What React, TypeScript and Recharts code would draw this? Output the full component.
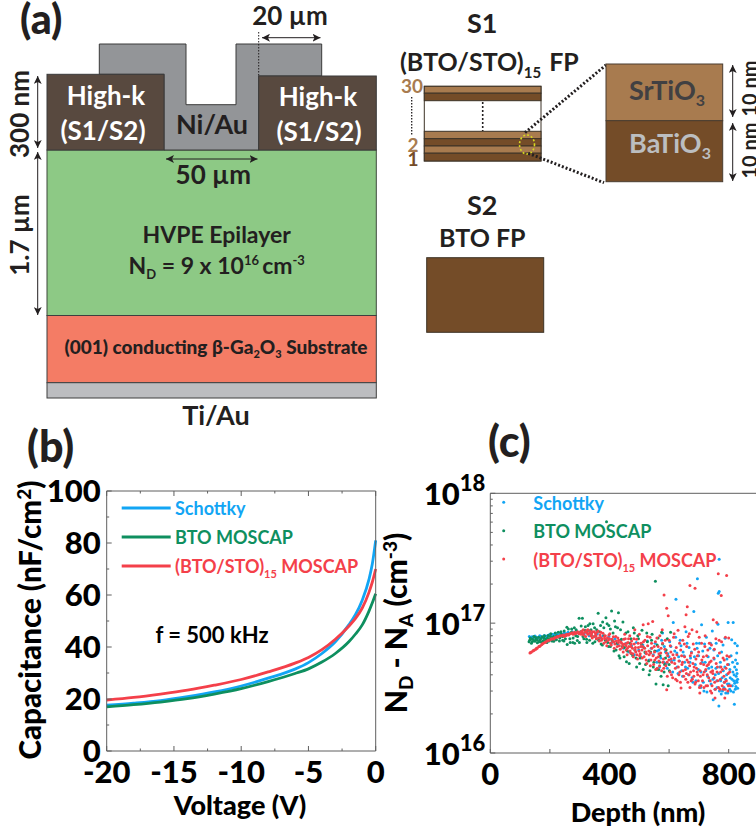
import React from 'react';
import { LineChart, Line, ScatterChart, Scatter, XAxis, YAxis } from 'recharts';

const FONT = 'Lato, "Open Sans", sans-serif';
const BLUE = '#12A5F4';
const GREEN = '#0E8F5F';
const RED = '#F4404A';
const AXIS = '#5f5f5f';
const INK = '#231f20';

// panel (b) C-V curves
const voltages = [-20, -18, -16, -14, -12, -10, -8, -6, -5, -4, -3, -2, -1.5, -1, -0.5, -0.25, 0];
const schottkyCap = [17.6, 18.4, 19.4, 20.9, 22.7, 25, 28, 31.5, 34, 37.5, 42, 48.5, 52.5, 58, 66, 72, 81];
const btoCap = [17, 17.8, 18.8, 20.1, 21.9, 24, 26.7, 29.8, 31.6, 34.2, 37.5, 42, 45, 48.5, 53.8, 57, 60.5];
const stoCap = [19.6, 20.6, 21.9, 23.4, 25.3, 27.5, 30.4, 33.8, 36, 39, 43, 48, 51, 55, 61, 65, 70];
const cvXTicks = [-20, -17.5, -15, -12.5, -10, -7.5, -5, -2.5, 0];
const cvYTicks = [0, 10, 20, 30, 40, 50, 60, 70, 80, 90, 100];

const cvData = voltages.map((v, i) => ({ v, schottky: schottkyCap[i], bto: btoCap[i], sto: stoCap[i] }));

// panel (c) depth (nm), N in units of 1e16 cm-3
const schottkyPts = [
  [131,7.9],[136,7.7],[140,7.85],[145,7.75],[150,7.95],[155,7.8],[160,7.7],[166,8.0],[171,7.85],[176,7.75],[181,8.05],[187,7.9],[192,8.0],[198,8.15],[204,7.95],[210,8.2],[216,8.05],[222,8.3],[228,8.1],[235,8.35],[241,8.2],[248,8.45],[254,8.3],[261,8.5],[268,8.35],[275,8.6],[282,8.4],[290,8.7],[298,8.3],[306,8.6],[315,8.25],[323,8.65],[332,8.0],[340,8.4],[350,7.9],[359,8.3],[368,7.7],[378,8.0],[388,7.4],[398,7.9],[408,7.1],[418,7.6],[428,6.9],[438,7.4],[447,6.4],[456,7.0],[465,6.0],[474,6.7],[483,5.7],[490,7.1],[498,6.2],[505,5.5],[512,6.8],[520,5.9],[527,7.3],[533,5.2],[540,6.4],[547,5.7],[553,7.0],[559,5.0],[566,6.2],[572,5.4],[578,8.4],[584,6.6],[590,4.9],[596,5.8],[602,7.2],[608,5.1],[614,10.1],[619,6.1],[623,15.3],[627,4.6],[632,5.5],[637,7.4],[642,4.3],[647,6.0],[652,5.0],[657,8.6],[662,4.5],[667,6.5],[672,5.4],[677,3.8],[683,12.3],[688,4.8],[692,7.0],[695,22],[699,5.6],[703,3.3],[707,4.2],[709,9.7],[713,6.1],[717,3.0],[721,5.0],[725,7.8],[729,3.9],[733,4.5],[737,6.4],[741,3.4],[745,8.7],[748,2.57],[751,5.3],[755,4.0],[758,7.0],[761,3.2],[764,9.8],[765,17],[767,2.3],[768,17.5],[768,31],[770,4.6],[773,3.6],[776,6.0],[779,3.0],[782,4.3],[785,3.5],[788,7.65],[790,2.9],[793,4.0],[796,3.4],[798,10.1],[800,4.8],[803,3.1],[805,3.8],[808,5.6],[810,7.45],[812,3.3],[814,4.2],[815,10.1],[817,3.6],[819,2.37],[820,4.6],[821,7.0],[822,3.1],[824,3.25],[825,3.9],[826,4.37],[827,5.9],[828,3.5],[829,6.7],[829,4.9],[830,3.7],
  [560,6.1],[568,4.6],[575,7.4],[582,5.0],[588,6.0],[594,4.5],[600,5.5],[606,6.6],[612,4.2],[617,5.2],[622,7.8],[626,5.9],[630,4.1],[635,5.1],[640,6.7],[645,3.9],[650,5.6],[655,4.6],[660,7.0],[665,4.0],[670,5.0],[675,6.0],[680,3.5],[685,5.5],[690,3.6],[694,6.4],[698,4.4],[702,7.0],[706,3.2],[711,5.0],[715,3.5],[719,6.9],[723,4.3],[727,2.95],[731,5.5],[735,3.6],[739,7.0],[743,4.6],[747,3.7],[750,6.2],[754,3.1],[757,4.5],[760,3.6],[763,5.6],[766,4.1],[769,3.0],[772,5.0],[775,2.85],[778,3.8],[781,6.8],[784,3.2],[787,4.6],[790,3.7],[794,5.3],[797,2.9],[801,3.4],[804,4.4],[807,3.0],[811,3.7],[813,5.0],[816,2.95],[818,4.0],[820,3.45],[823,5.2],[826,3.6],[828,4.1],[830,3.15],
];
const btoPts = [
  [130,7.2],[134,7.7],[138,7.0],[142,7.5],[146,7.9],[150,7.25],[154,7.6],[158,7.05],[162,7.8],[166,7.4],[170,7.15],[174,7.85],[178,7.35],[182,8.0],[186,7.5],[190,7.1],[194,8.05],[198,7.6],[203,8.3],[208,7.7],[213,7.25],[218,8.4],[223,8.0],[228,8.5],[233,7.7],[238,8.2],[243,7.4],[248,8.7],[253,8.1],[258,6.85],[262,9.0],[267,7.6],[272,8.5],[277,7.1],[282,9.2],[287,8.0],[292,7.35],[298,10.9],[303,8.6],[309,10.9],[314,7.6],[319,9.4],[324,7.1],[329,8.8],[334,9.9],[339,8.0],[344,7.0],[350,9.2],[356,7.6],[362,11.9],[367,8.6],[372,6.9],[377,10.2],[382,8.0],[388,11.0],[390,60.5],[394,7.1],[398,9.6],[403,6.6],[407,12.4],[412,8.4],[417,10.4],[422,6.2],[427,9.2],[430,12.0],[435,5.4],[440,7.5],[445,10.2],[450,6.5],[457,5.05],[462,8.6],[468,7.0],[474,5.8],[480,9.2],[485,6.2],[491,4.6],[497,7.6],[503,5.4],[509,8.8],[515,6.5],[521,4.8],[527,7.2],[533,4.0],[538,6.0],[543,8.2],[549,5.0],[554,21],[556,3.4],[560,6.8],[565,4.4],[570,5.6],[575,8.5],[580,3.35],[585,4.8],[590,6.2],[597,3.3],[601,4.3],[605,8.5],
  [132,7.4],[137,7.55],[141,7.2],[147,7.35],[152,7.75],[157,7.45],[163,7.2],[169,7.6],[175,7.2],[180,7.7],[185,7.25],[192,7.7],[197,7.3],[202,7.9],[207,7.3],[212,7.9],[217,7.5],[222,7.45],[227,7.9],[232,7.3],[237,8.6],[242,7.9],[247,7.3],[252,7.6],[257,9.3],[263,8.2],[268,7.1],[273,9.0],[278,7.7],[283,7.0],[288,8.9],[293,7.9],[299,7.1],[305,9.5],[311,7.9],[317,8.8],[323,7.5],[328,9.6],[333,7.4],[338,8.9],[345,9.9],[351,7.2],[357,8.9],[364,7.4],[370,9.6],[376,6.8],[381,9.2],[386,7.4],[392,9.9],[397,6.6],[403,9.0],[409,7.4],[415,6.1],[420,9.4],[425,7.0],[432,5.6],[437,8.9],[443,6.6],[449,5.5],[455,8.4],[460,6.1],[466,4.9],[472,7.6],[478,5.6],[483,8.4],[489,5.4],[495,8.0],[501,4.9],[507,6.9],[513,4.4],[519,6.0],[525,8.4],[531,5.1],[536,4.3],[541,7.4],[547,4.6],[552,6.1],[558,4.4],[563,7.7],[568,5.0],[573,3.9],[578,6.9],[583,4.2],[588,5.4],[594,7.6],[600,4.8],
];
const stoPts = [
  [133,5.9],[138,6.0],[143,6.1],[148,6.2],[153,6.3],[158,6.45],[163,6.6],[168,6.7],[173,6.85],[178,7.0],[183,7.1],[188,7.2],[193,7.35],[198,7.4],[203,7.5],[208,7.6],[213,7.55],[218,7.75],[223,7.8],[228,7.85],[233,7.95],[238,8.0],[243,8.05],[248,7.9],[253,8.15],[258,8.2],[263,8.1],[268,8.3],[273,8.35],[278,8.2],[283,8.5],[288,8.35],[293,8.6],[298,8.3],[303,8.55],[308,8.7],[313,8.1],[318,8.5],[323,8.75],[328,8.2],[333,8.4],[338,8.0],[343,8.6],[348,7.9],[353,8.3],[358,8.5],[363,7.7],[368,8.1],[373,7.4],[378,8.35],[383,7.9],[388,7.2],[393,7.7],[398,8.1],[403,7.0],[408,7.5],[413,7.85],[418,6.9],[423,7.3],[428,7.7],[433,6.7],[438,7.2],[443,6.5],[448,7.5],
  [450,6.9],[453,7.6],[456,6.2],[459,5.7],[462,7.1],[465,6.6],[468,8.0],[471,5.9],[474,7.3],[477,6.4],[480,5.5],[483,6.9],[485,8.9],[488,6.0],[491,7.5],[494,5.3],[497,6.5],[500,8.2],[503,5.8],[506,7.0],[509,6.2],[513,9.7],[516,5.5],[519,7.4],[522,6.0],[525,4.9],[528,6.7],[530,9.9],[533,5.7],[536,7.8],[539,5.2],[542,6.4],[545,10.3],[548,4.8],[551,6.0],[554,7.2],[557,5.4],[560,4.5],[563,6.6],[566,5.1],[569,8.0],[572,5.9],[575,4.3],[578,7.0],[581,5.3],[583,16.5],[586,6.3],[589,4.7],[592,13],[592,3.07],[595,5.6],[597,11.4],[600,7.4],[603,4.2],[606,6.0],[609,5.0],[612,3.8],[615,7.8],[618,5.4],[621,4.5],[624,6.5],[627,3.6],[630,8.8],[633,5.1],[636,4.2],[639,6.2],[640,3.16],[643,4.8],[646,7.4],[649,3.9],[652,5.5],[653,9.4],[655,4.4],[657,11.6],[659,6.6],[661,13.4],[663,3.5],[665,5.0],[668,8.3],[670,19.5],[670,3.2],[672,4.2],[675,5.9],[678,3.7],[681,6.9],[684,4.6],[687,18.6],[687,3.4],[690,5.3],[693,8.6],[696,4.0],[699,6.0],[702,3.2],[703,2.9],[706,4.9],[709,7.0],[712,3.6],[715,5.5],[718,4.2],[721,8.0],[724,3.3],[727,4.7],[730,6.2],[733,3.8],[736,5.0],[739,3.0],[742,6.8],[743,2.9],[746,4.3],[748,10.6],[750,5.4],[753,3.5],[754,2.65],[757,7.6],[760,10.1],[762,4.6],[765,24],[766,3.2],[769,5.9],[772,3.7],[775,16.3],[776,7.2],[779,4.4],[782,3.1],[785,5.2],[787,2.65],[789,7.8],[792,3.6],[793,23.3],[796,4.8],[799,3.3],[802,5.5],
  [305,8.2],[312,8.9],[320,7.9],[327,8.9],[335,8.7],[342,7.7],[349,8.6],[356,7.6],[361,8.7],[366,7.3],[371,8.5],[376,7.6],[381,7.0],[386,8.0],[391,6.7],[396,7.4],[401,8.3],[406,6.8],[411,7.2],[416,6.4],[421,7.9],[426,6.6],[431,7.4],[436,6.3],[441,7.0],[446,6.0],[451,8.2],[455,6.7],[460,6.4],[464,7.6],[469,6.1],[473,6.9],[478,5.8],[482,7.6],[487,6.5],[492,5.7],[496,7.0],[501,5.6],[505,6.6],[510,5.4],[514,7.2],[518,6.4],[523,5.2],[527,7.9],[532,6.1],[537,4.7],[541,7.0],[546,5.6],[550,6.6],[555,4.4],[559,7.7],[564,5.5],[568,4.7],[573,6.4],[577,8.9],[582,4.5],[587,7.4],[591,5.9],[594,3.9],[599,5.2],[604,6.7],[608,4.0],[613,5.7],[617,8.3],[622,3.7],[626,5.7],[631,4.6],[635,7.0],[638,3.5],[642,5.6],[647,4.3],[651,6.9],[656,3.7],[660,5.2],[664,7.9],[667,4.0],[671,5.6],[674,3.6],[677,8.9],[680,4.9],[683,3.9],[686,6.3],[689,3.5],[692,4.5],[695,5.6],[698,3.6],[701,7.8],[704,4.3],[707,3.3],[710,5.2],[714,4.0],[717,3.2],[720,6.6],[723,4.4],[726,5.6],[729,3.3],[732,4.8],[735,7.0],[738,3.6],[741,5.1],[744,3.3],[747,4.1],[752,6.3],[755,3.1],[758,4.9],[763,3.6],[768,7.4],[771,3.1],[774,4.6],[778,3.3],[781,5.4],[784,3.9],[788,3.1],[791,4.5],[794,5.6],[797,3.0],[800,7.7],[803,4.2],[806,3.3],
  [135,5.95],[145,6.15],[155,6.4],[165,6.6],[175,6.95],[185,7.15],[195,7.4],[205,7.55],[215,7.7],[225,7.9],[235,8.0],[245,8.1],[255,8.05],[265,8.25],[275,8.45],[285,8.3],[295,8.45],[310,8.35],[325,8.4],[340,8.3],[355,8.0],[370,7.8],[385,7.6],[400,7.6],[415,7.2],[430,7.1],[445,6.8],[458,7.0],[472,6.6],[486,6.2],[499,6.1],[511,6.6],[524,5.8],[538,5.9],[552,5.2],[566,5.8],[579,5.0],[593,5.0],[607,5.3],[619,4.9],[633,4.0],[645,5.0],[658,4.1],[669,4.7],[682,4.3],[694,4.2],[705,3.9],[716,4.8],[728,4.0],[740,4.2],[751,3.8],[761,4.2],[773,4.2],[786,3.5],[798,4.1],
];
const depthTicks = [0, 200, 400, 600, 800];
const depthLabels = [0, 400, 800];
const dopingDecades = [1e16, 1e17, 1e18];
const dopingTicks = [1e16, 2e16, 3e16, 4e16, 5e16, 6e16, 7e16, 8e16, 9e16, 1e17, 2e17, 3e17, 4e17, 5e17, 6e17, 7e17, 8e17, 9e17, 1e18];

const toRows = (pts: number[][]) => pts.map(([depth, n]) => ({ depth, n: n * 1e16 }));

const cvLegend = [
  { name: 'Schottky', color: BLUE },
  { name: 'BTO MOSCAP', color: GREEN },
  { name: '(BTO/STO)', color: RED, sub: '15', tail: ' MOSCAP' },
];

const tickStyle = { fontFamily: FONT, fontWeight: 900, fontSize: 31, fill: '#000' };

const cvTickLen = (major: boolean) => (major ? 5 : 2.5);

// dir: which way the tick points into the plot
function CvXTick({ x, y, payload, dir, label }: any) {
  const major = payload.value % 5 === 0;
  const l = cvTickLen(major);
  return (
    <g>
      <line x1={x} y1={y} x2={x} y2={y + dir * l} stroke={AXIS} />
      {label && major && (
        <text x={x} y={y + 32} textAnchor="middle" style={tickStyle}>{payload.value}</text>
      )}
    </g>
  );
}

function CvYTick({ x, y, payload, dir, label }: any) {
  const major = payload.value % 20 === 0;
  const l = cvTickLen(major);
  return (
    <g>
      <line x1={x} y1={y} x2={x + dir * l} y2={y} stroke={AXIS} />
      {label && major && (
        <text x={x - 6} y={y + 11} textAnchor="end" style={tickStyle}>{payload.value}</text>
      )}
    </g>
  );
}

function DepthTick({ x, y, payload, dir, label }: any) {
  return (
    <g>
      <line x1={x} y1={y} x2={x} y2={y + dir * 4} stroke={AXIS} />
      {label && depthLabels.includes(payload.value) && (
        <text x={x} y={y + 32} textAnchor="middle" style={tickStyle}>{payload.value}</text>
      )}
    </g>
  );
}

function DopingTick({ x, y, payload, dir, label }: any) {
  const idx = dopingDecades.indexOf(payload.value);
  const l = idx >= 0 ? 5 : 2.5;
  return (
    <g>
      <line x1={x} y1={y} x2={x + dir * l} y2={y} stroke={AXIS} />
      {label && idx >= 0 && (
        <text x={x - 5} y={y + 12} textAnchor="end" style={tickStyle}>
          10<tspan dy={-14} fontSize={22}>{16 + idx}</tspan>
        </text>
      )}
    </g>
  );
}

const Dot = ({ cx, cy, fill }: any) => <circle cx={cx} cy={cy} r={1.5} fill={fill} />;

function CvChart() {
  return (
    <LineChart
      width={770}
      height={835}
      data={cvData}
      margin={{ top: 490, left: 105.7, right: 393.3, bottom: 83 }}
      style={{ position: 'absolute', left: 0, top: 0 }}
    >
      <XAxis dataKey="v" type="number" domain={[-20, 0]} ticks={cvXTicks} interval={0} height={1} tickSize={0} tickMargin={0} tickLine={false} stroke={AXIS}
        tick={(p: any) => <CvXTick {...p} dir={-1} label />} />
      <XAxis xAxisId="top" orientation="top" dataKey="v" type="number" domain={[-20, 0]} ticks={cvXTicks} interval={0} height={1} tickSize={0} tickMargin={0} tickLine={false} stroke={AXIS}
        tick={(p: any) => <CvXTick {...p} dir={1} />} />
      <YAxis domain={[0, 100]} ticks={cvYTicks} interval={0} width={1} tickSize={0} tickMargin={0} tickLine={false} stroke={AXIS}
        tick={(p: any) => <CvYTick {...p} dir={1} label />} />
      <YAxis yAxisId="right" orientation="right" domain={[0, 100]} ticks={cvYTicks} interval={0} width={1} tickSize={0} tickMargin={0} tickLine={false} stroke={AXIS}
        tick={(p: any) => <CvYTick {...p} dir={-1} />} />
      <Line dataKey="schottky" type="monotone" stroke={BLUE} strokeWidth={2.8} dot={false} isAnimationActive={false} />
      <Line dataKey="bto" type="monotone" stroke={GREEN} strokeWidth={2.8} dot={false} isAnimationActive={false} />
      <Line dataKey="sto" type="monotone" stroke={RED} strokeWidth={2.8} dot={false} isAnimationActive={false} />
    </LineChart>
  );
}

function DopingChart() {
  return (
    <ScatterChart
      width={770}
      height={835}
      margin={{ top: 492.3, left: 489.3, right: 10.5, bottom: 81 }}
      style={{ position: 'absolute', left: 0, top: 0 }}
    >
      <XAxis dataKey="depth" type="number" domain={[0, 900]} ticks={depthTicks} interval={0} height={1} tickSize={0} tickMargin={0} tickLine={false} stroke={AXIS}
        tick={(p: any) => <DepthTick {...p} dir={-1} label />} />
      <XAxis xAxisId="top" orientation="top" dataKey="depth" type="number" domain={[0, 900]} ticks={depthTicks} interval={0} height={1} tickSize={0} tickMargin={0} tickLine={false} stroke={AXIS}
        tick={(p: any) => <DepthTick {...p} dir={1} />} />
      <YAxis dataKey="n" type="number" scale="log" domain={[1e16, 1e18]} ticks={dopingTicks} interval={0} width={1} tickSize={0} tickMargin={0} tickLine={false} stroke={AXIS}
        tick={(p: any) => <DopingTick {...p} dir={1} label />} />
      <YAxis yAxisId="right" orientation="right" dataKey="n" type="number" scale="log" domain={[1e16, 1e18]} ticks={dopingTicks} interval={0} width={1} tickSize={0} tickMargin={0} tickLine={false} stroke={AXIS}
        tick={(p: any) => <DopingTick {...p} dir={-1} />} />
      <Scatter data={toRows(schottkyPts)} fill={BLUE} shape={<Dot />} isAnimationActive={false} />
      <Scatter data={toRows(btoPts)} fill={GREEN} shape={<Dot />} isAnimationActive={false} />
      <Scatter data={toRows(stoPts)} fill={RED} shape={<Dot />} isAnimationActive={false} />
    </ScatterChart>
  );
}

function Label({ x, y, size = 24, color = INK, anchor = 'middle', weight = 700, rotate, children }: any) {
  return (
    <text
      x={x}
      y={y}
      fontSize={size}
      fill={color}
      fontWeight={weight}
      textAnchor={anchor}
      transform={rotate ? `rotate(${rotate} ${x} ${y})` : undefined}
    >
      {children}
    </text>
  );
}

const Arrow = ({ x1, y1, x2, y2 }: any) => (
  <line x1={x1} y1={y1} x2={x2} y2={y2} stroke={INK} strokeWidth={1} markerStart="url(#tipStart)" markerEnd="url(#tipEnd)" />
);

const LAYER = { stroke: '#3c3226', strokeWidth: 1 };
const LIGHT = '#A87B4F';
const DARK = '#744C28';

function Schematic() {
  return (
    <svg width={756} height={835} style={{ position: 'absolute', left: 0, top: 0, fontFamily: FONT }}>
      <defs>
        <marker id="tipEnd" markerWidth="9" markerHeight="8" refX="8" refY="4" orient="auto" markerUnits="userSpaceOnUse">
          <path d="M0,0 L8,4 L0,8 L2,4 Z" fill={INK} />
        </marker>
        <marker id="tipStart" markerWidth="9" markerHeight="8" refX="1" refY="4" orient="auto" markerUnits="userSpaceOnUse">
          <path d="M9,0 L1,4 L9,8 L7,4 Z" fill={INK} />
        </marker>
      </defs>

      {/* device stack */}
      <rect x={47} y={150} width={329.3} height={165.5} fill="#8DC985" stroke="#3f4a3c" />
      <rect x={47} y={315.5} width={329.3} height={67.2} fill="#F47C65" stroke="#3f3f3f" />
      <rect x={47} y={382.7} width={329.3} height={15.3} fill="#BCBDC0" stroke="#3f3f3f" />
      <path d="M99.3,44 H186 V104.7 H236 V44 H321.7 V76 H258.7 V150 H164 V74.3 H99.3 Z" fill="#939598" stroke="#3a3a3a" />
      <rect x={47} y={74.3} width={117} height={75.7} fill="#58493F" stroke="#3a3a3a" />
      <rect x={258.7} y={76} width={117.6} height={74} fill="#58493F" stroke="#3a3a3a" />

      <Label x={106} y={105} size={26} color="#fff">High-k</Label>
      <Label x={103} y={140} size={26} color="#fff">(S1/S2)</Label>
      <Label x={318} y={106} size={26} color="#fff">High-k</Label>
      <Label x={319} y={141} size={26} color="#fff">(S1/S2)</Label>
      <Label x={212} y={134} size={27}>Ni/Au</Label>
      <Label x={213.3} y={184} size={26}>50 µm</Label>
      <Label x={216.7} y={243} size={23}>HVPE Epilayer</Label>
      <Label x={216.7} y={274} size={23}>
        N<tspan dy={5} fontSize={13}>D</tspan><tspan dy={-5}> = 9 x 10</tspan><tspan dy={-9} fontSize={13}>16 </tspan><tspan dy={9}>cm</tspan><tspan dy={-9} fontSize={13}>-3</tspan>
      </Label>
      <Label x={216} y={354} size={19} weight={900}>
        (001) conducting β-Ga<tspan dy={4} fontSize={11}>2</tspan><tspan dy={-4}>O</tspan><tspan dy={4} fontSize={11}>3</tspan><tspan dy={-4}> Substrate</tspan>
      </Label>
      <Label x={216} y={425} size={27}>Ti/Au</Label>
      <Label x={20} y={34} size={41} anchor="start" weight={900}>(a)</Label>
      <Label x={290} y={25} size={26}>20 µm</Label>
      <line x1={258.7} y1={32} x2={258.7} y2={76} stroke={INK} strokeWidth={1} strokeDasharray="1.5 1.5" />
      <Arrow x1={262} y1={37.7} x2={320.5} y2={37.7} />
      <Arrow x1={166} y1={159} x2={257.5} y2={159} />
      <Arrow x1={37.7} y1={76} x2={37.7} y2={148} />
      <Arrow x1={37.7} y1={152} x2={37.7} y2={315} />
      <Label x={29} y={114} size={26} rotate={-90}>300 nm</Label>
      <Label x={29} y={235} size={26} rotate={-90}>1.7 µm</Label>

      {/* S1 superlattice */}
      <Label x={482.3} y={33} size={27}>S1</Label>
      <Label x={400} y={71} size={25} anchor="start">
        (BTO/STO)<tspan dy={7} fontSize={15}>15</tspan><tspan dy={-7} dx={8}>FP</tspan>
      </Label>
      <rect x={424.3} y={86.3} width={116.7} height={74.7} fill="#fff" {...LAYER} />
      <rect x={424.3} y={86.3} width={116.7} height={6.9} fill={LIGHT} {...LAYER} />
      <rect x={424.3} y={93.2} width={116.7} height={7.5} fill={DARK} {...LAYER} />
      <rect x={424.3} y={131.3} width={116.7} height={7.4} fill={LIGHT} {...LAYER} />
      <rect x={424.3} y={138.7} width={116.7} height={7.3} fill={DARK} {...LAYER} />
      <rect x={424.3} y={146} width={116.7} height={7.2} fill={LIGHT} {...LAYER} />
      <rect x={424.3} y={153.2} width={116.7} height={7.8} fill={DARK} {...LAYER} />
      <line x1={482.7} y1={102} x2={482.7} y2={131} stroke={INK} strokeWidth={1.6} strokeDasharray="2 2" />
      <line x1={411.7} y1={97} x2={411.7} y2={136} stroke={INK} strokeWidth={1.3} strokeDasharray="1.5 1.5" />
      <Label x={412} y={93} size={19} color={LIGHT}>30</Label>
      <Label x={413} y={152} size={19} color={LIGHT}>2</Label>
      <Label x={413} y={166} size={19} color={DARK}>1</Label>
      <ellipse cx={527} cy={144.5} rx={7.5} ry={9.5} fill="none" stroke="#D8D820" strokeWidth={1.6} strokeDasharray="2 2" />
      <line x1={525} y1={132.7} x2={606} y2={65} stroke={INK} strokeWidth={3} strokeDasharray="2 2" />
      <line x1={528.3} y1={153.3} x2={604} y2={182.7} stroke={INK} strokeWidth={3} strokeDasharray="2 2" />

      <rect x={606} y={64} width={116.7} height={56.7} fill={LIGHT} stroke="#4a3d30" />
      <rect x={606} y={120.7} width={116.7} height={61} fill={DARK} stroke="#4a3d30" />
      <Label x={667} y={100} size={27} color="#414042">
        SrTiO<tspan dy={6} fontSize={16}>3</tspan>
      </Label>
      <Label x={670} y={153} size={27} color="#BCBEC0">
        BaTiO<tspan dy={6} fontSize={16}>3</tspan>
      </Label>
      <Arrow x1={732.7} y1={65} x2={732.7} y2={117} />
      <Arrow x1={732.7} y1={123} x2={732.7} y2={181} />
      <Label x={757} y={88.5} size={20} rotate={-90}>10 nm</Label>
      <Label x={757} y={150.5} size={20} rotate={-90}>10 nm</Label>

      {/* S2 */}
      <Label x={482.3} y={215} size={27}>S2</Label>
      <Label x={482.3} y={247} size={25}>BTO FP</Label>
      <rect x={426.7} y={257.7} width={117} height={74.6} fill={DARK} stroke="#3c3226" />

      {/* panel (b) text */}
      <Label x={27} y={462} size={43} anchor="start" weight={900}>(b)</Label>
      <Label x={41} y={620} size={29.5} color="#000" rotate={-90} weight={900}>
        Capacitance (nF/cm<tspan dy={-10} fontSize={19}>2</tspan><tspan dy={10}>)</tspan>
      </Label>
      <Label x={240} y={815} size={27} color="#000" weight={900}>Voltage (V)</Label>
      <Label x={212} y={643} size={22} color="#000">f = 500 kHz</Label>
      {cvLegend.map((e, i) => (
        <g key={e.name}>
          <line x1={121.7} x2={170.7} y1={508 + i * 29} y2={508 + i * 29} stroke={e.color} strokeWidth={2.8} />
          <text x={175} y={515 + i * 29} fontSize={18} fontWeight={700} fill={e.color}>
            {e.name}
            {e.sub && <tspan dy={5} fontSize={11}>{e.sub}</tspan>}
            {e.tail && <tspan dy={-5}>{e.tail}</tspan>}
          </text>
        </g>
      ))}

      {/* panel (c) text */}
      <Label x={488} y={457} size={43} anchor="start" weight={900}>(c)</Label>
      <Label x={407} y={623} size={30} color="#000" rotate={-90} weight={900}>
        N<tspan dy={6} fontSize={19}>D</tspan><tspan dy={-6}> - N</tspan><tspan dy={6} fontSize={19}>A</tspan><tspan dy={-6}> (cm</tspan><tspan dy={-10} fontSize={19}>-3</tspan><tspan dy={10}>)</tspan>
      </Label>
      <Label x={638} y={822} size={27} color="#000" weight={900}>Depth (nm)</Label>
      {cvLegend.map((e, i) => (
        <g key={e.name}>
          <circle cx={503.7} cy={502.3 + i * 28.4} r={1.5} fill={e.color} />
          <text x={533.3} y={510 + i * 28.4} fontSize={18} fontWeight={700} fill={e.color}>
            {e.name}
            {e.sub && <tspan dy={5} fontSize={11}>{e.sub}</tspan>}
            {e.tail && <tspan dy={-5}>{e.tail}</tspan>}
          </text>
        </g>
      ))}
    </svg>
  );
}

export default function App() {
  return (
    <div style={{ position: 'absolute', left: 0, top: 0, width: 756, height: 835, overflow: 'hidden', background: '#fff', fontFamily: FONT }}>
      <CvChart />
      <DopingChart />
      <Schematic />
    </div>
  );
}
